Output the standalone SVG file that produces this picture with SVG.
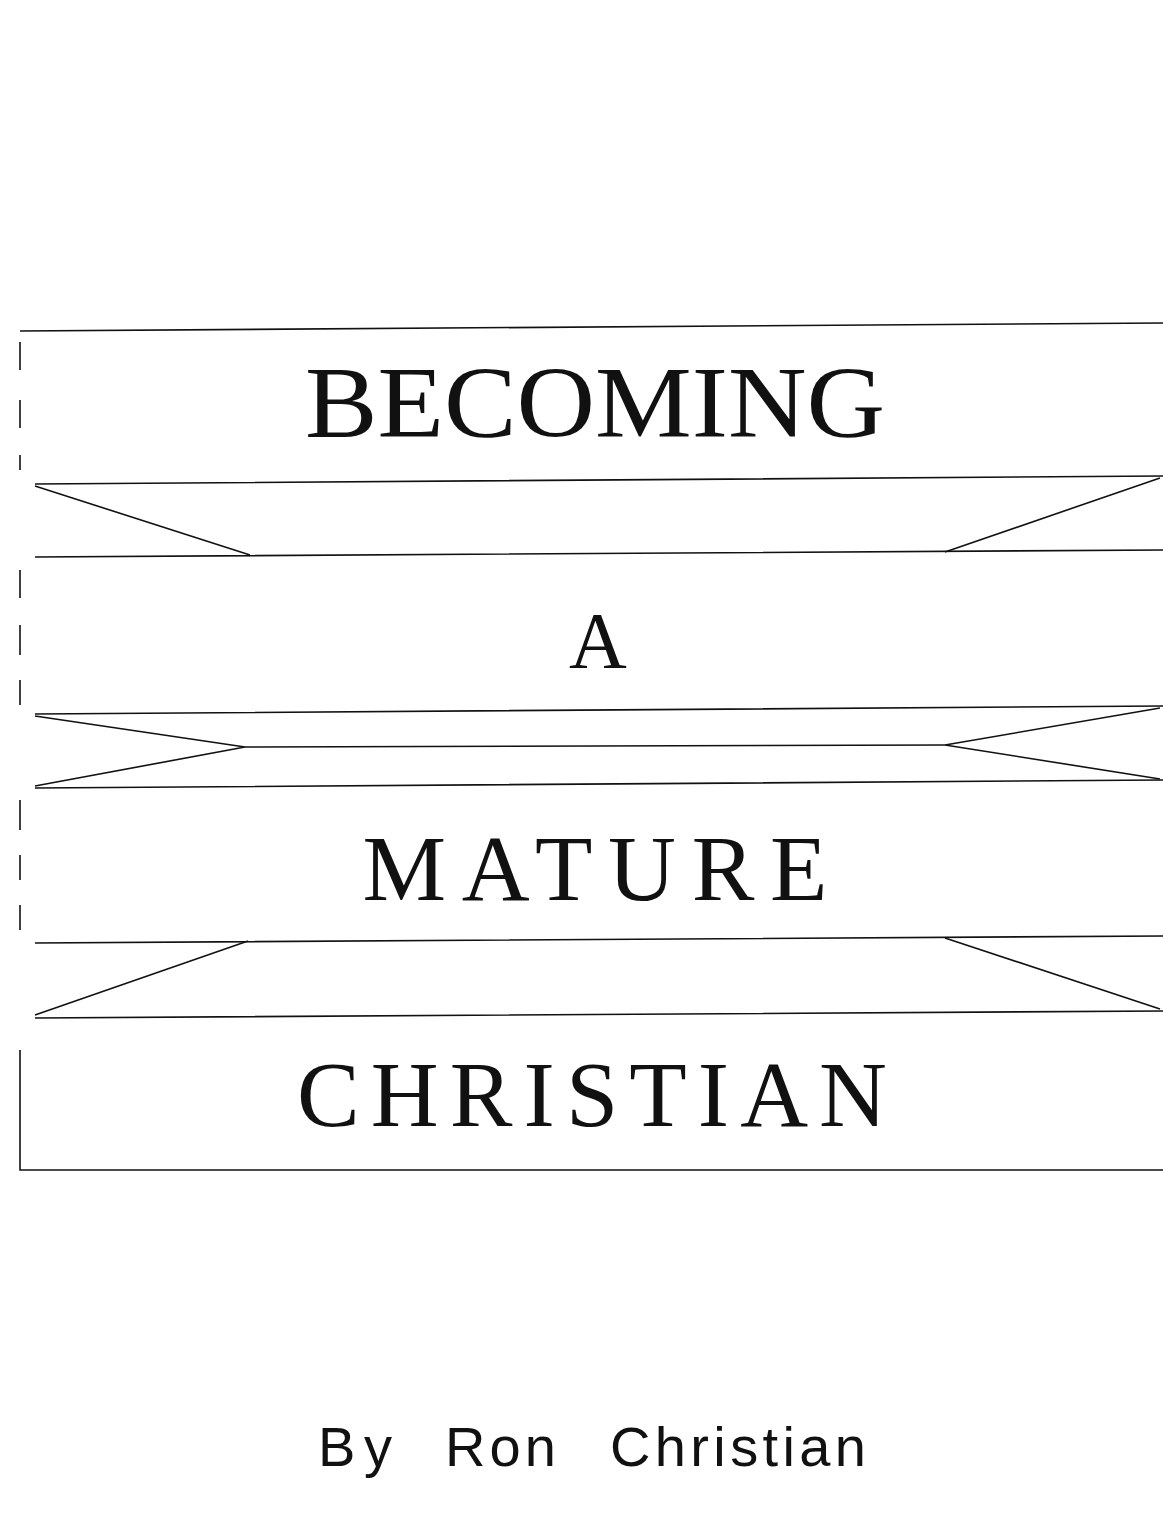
<svg xmlns="http://www.w3.org/2000/svg" width="1163" height="1523" viewBox="0 0 1163 1523">
<style>
.l{stroke:#111;stroke-width:1.6;fill:none}
.t{font-family:"Liberation Serif",serif;fill:#111;text-anchor:middle}
.s{font-family:"Liberation Sans",sans-serif;font-size:56px;fill:#111}
</style>
<rect width="1163" height="1523" fill="#fff"/>
<g id="frame" class="l">
<path d="M20 331 L1163 323"/>
<path d="M20 342 V370 M20 400 V428 M20 455 V470"/>
<path d="M20 570 V598 M20 625 V655 M20 680 V705"/>
<path d="M20 800 V830 M20 855 V880 M20 905 V930"/>
<path d="M20 1050 V1170 L1163 1170"/>
<path d="M35 484 L1163 476 M35 557 L1163 550"/>
<path d="M35 486 L250 555 M945 552 L1160 478"/>
<path d="M35 714 L1163 706 M35 788 L1163 780 M245 747 L945 745"/>
<path d="M35 716 L245 747 L35 786 M1160 708 L945 745 L1160 779"/>
<path d="M35 943 L1163 936 M35 1018 L1163 1011"/>
<path d="M35 1015 L248 941 M945 938 L1160 1009"/>
</g>
<text class="t" x="595" y="437" font-size="102" textLength="580" lengthAdjust="spacingAndGlyphs">BECOMING</text>
<text class="t" x="598" y="668" font-size="80">A</text>
<text class="t" x="595" y="900" font-size="94" textLength="465" lengthAdjust="spacing">MATURE</text>
<text class="t" x="592" y="1126" font-size="94" textLength="590" lengthAdjust="spacing">CHRISTIAN</text>
<text class="s" x="318" y="1466" textLength="74">By</text>
<text class="s" x="445" y="1466" textLength="111">Ron</text>
<text class="s" x="610" y="1466" textLength="256">Christian</text>
</svg>
